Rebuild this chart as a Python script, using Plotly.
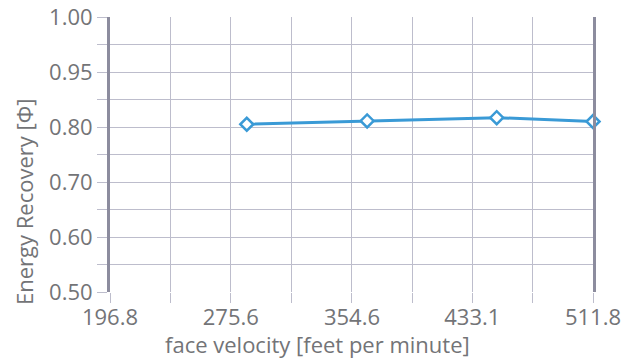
import plotly.graph_objects as go

# Data
face_velocity = [286.0, 364.5, 449.0, 511.8]
energy_recovery = [0.805, 0.811, 0.817, 0.810]

x_tick_vals = [196.8, 275.6, 354.6, 433.1, 511.8]
x_tick_text = ["196.8", "275.6", "354.6", "433.1", "511.8"]
x_minor_vals = [236.2, 315.1, 393.85, 472.45]

y_tick_vals = [0.5, 0.6, 0.7, 0.8, 0.9, 1.0]
y_tick_text = ["0.50", "0.60", "0.70", "0.80", "0.95", "1.00"]
y_minor_vals = [0.55, 0.65, 0.75, 0.85, 0.95]

grid = "#bdbdcc"
axis_col = "#8c8c9e"
txt = "#737477"
blue = "#3a9ad6"
font = "Open Sans"
fs = 22

fig = go.Figure()
fig.add_trace(go.Scatter(
    x=face_velocity, y=energy_recovery, mode="lines+markers",
    line=dict(color=blue, width=3),
    marker=dict(symbol="diamond", size=10, color="white",
                line=dict(color=blue, width=2.5)),
    cliponaxis=False, showlegend=False,
))

fig.update_layout(
    width=621, height=359,
    margin=dict(l=110, r=28, t=17, b=67, autoexpand=False),
    paper_bgcolor="white", plot_bgcolor="white",
    font=dict(family=font, color=txt, size=fs),
    xaxis=dict(
        range=[196.8, 511.8], tickvals=x_tick_vals, ticktext=x_tick_text,
        automargin=False, ticklabeloverflow="allow", ticklabelstandoff=-4,
        showgrid=True, gridcolor=grid, gridwidth=1.2,
        ticks="outside", ticklen=10, tickcolor=grid, tickwidth=1.2,
        minor=dict(tickvals=x_minor_vals, showgrid=True, gridcolor=grid,
                   gridwidth=1.2, ticks="outside", ticklen=10,
                   tickcolor=grid, tickwidth=1.2),
        showline=False, zeroline=False,
        tickfont=dict(size=fs, color=txt, family=font),
    ),
    yaxis=dict(
        range=[0.5, 1.0], tickvals=y_tick_vals, ticktext=y_tick_text,
        automargin=False, ticklabeloverflow="allow",
        showgrid=True, gridcolor=grid, gridwidth=1.2,
        ticks="outside", ticklen=10, tickcolor=grid, tickwidth=1.2,
        minor=dict(tickvals=y_minor_vals, showgrid=True, gridcolor=grid,
                   gridwidth=1.2, ticks="outside", ticklen=10,
                   tickcolor=grid, tickwidth=1.2),
        showline=True, linecolor=axis_col, linewidth=3, mirror=True,
        zeroline=False,
        tickfont=dict(size=fs, color=txt, family=font),
    ),
    annotations=[
        dict(text="face velocity [feet per minute]", xref="paper", yref="paper",
             x=(317 - 110) / 483, y=-(344 - 292) / 275, xanchor="center",
             yanchor="middle", showarrow=False,
             font=dict(size=fs, color=txt, family=font)),
        dict(text="Energy Recovery [Φ]", xref="paper", yref="paper",
             x=-(110 - 24) / 483, y=(292 - 202) / 275, xanchor="center",
             yanchor="middle", textangle=-90, showarrow=False,
             font=dict(size=fs, color=txt, family=font)),
    ],
)

fig.write_html("out.html", config={"displayModeBar": False},
               post_script="document.body.style.margin='0';document.body.style.overflow='hidden';")
